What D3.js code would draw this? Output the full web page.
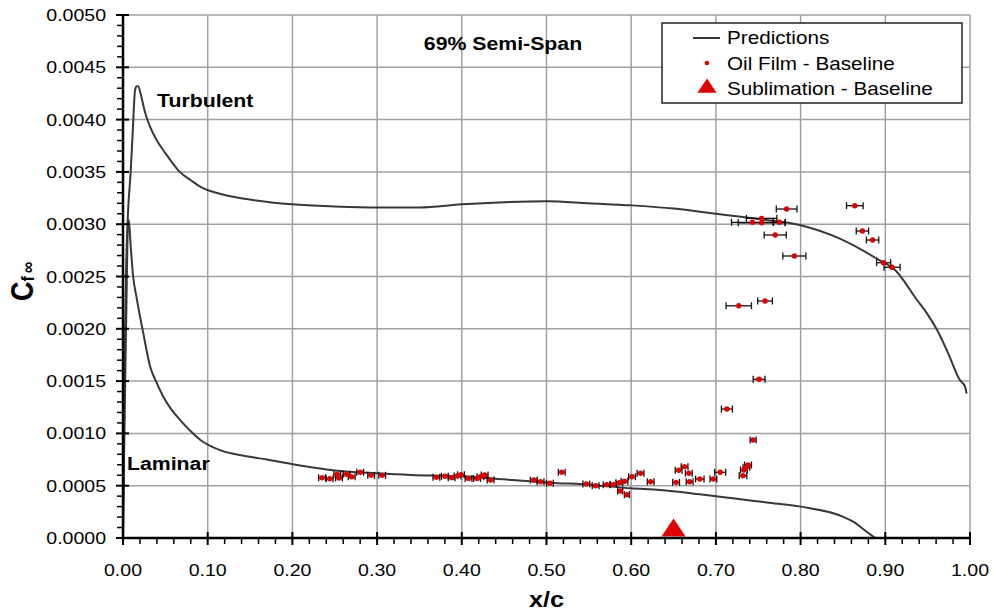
<!DOCTYPE html>
<html>
<head>
<meta charset="utf-8">
<script src="https://cdn.jsdelivr.net/npm/d3@7"></script>
<style>
  html, body { margin: 0; padding: 0; background: #fff; }
  svg { display: block; font-family: "Liberation Sans", Arial, sans-serif; }
</style>
</head>
<body>
<svg id="chart" width="994" height="613"></svg>
<script>
// Axis ticks
const xTicks = [0.0, 0.1, 0.2, 0.3, 0.4, 0.5, 0.6, 0.7, 0.8, 0.9, 1.0];
const yTicks = [0.0000, 0.0005, 0.0010, 0.0015, 0.0020, 0.0025, 0.0030, 0.0035, 0.0040, 0.0045, 0.0050];

// Predicted skin friction, turbulent boundary layer [x/c, Cf]
const turbulent = [
  [0.000, 0.0000], [0.001, 0.0008], [0.002, 0.0017], [0.0035, 0.0025], [0.0063, 0.00317],
  [0.009, 0.00349], [0.0114, 0.00387], [0.0142, 0.00428], [0.016, 0.00432], [0.018, 0.00432],
  [0.021, 0.00424], [0.026, 0.00407], [0.032, 0.00393], [0.040, 0.00380], [0.050, 0.00368],
  [0.067, 0.00350], [0.080, 0.00342], [0.091, 0.00336], [0.110, 0.00330], [0.146, 0.00324],
  [0.200, 0.00319], [0.250, 0.00317], [0.300, 0.00316], [0.350, 0.00316], [0.400, 0.00319],
  [0.450, 0.00321], [0.500, 0.00322], [0.550, 0.00320], [0.600, 0.00318], [0.650, 0.00315],
  [0.700, 0.00310], [0.750, 0.00305], [0.800, 0.00299], [0.847, 0.00286], [0.890, 0.00267],
  [0.913, 0.00255], [0.937, 0.00228], [0.949, 0.00215], [0.961, 0.00199], [0.974, 0.00177],
  [0.988, 0.00151], [0.994, 0.00145], [0.996, 0.00138]
];

// Predicted skin friction, laminar boundary layer [x/c, Cf]
const laminar = [
  [0.000, 0.0000], [0.002, 0.0012], [0.004, 0.0022], [0.0055, 0.0029], [0.007, 0.00304],
  [0.009, 0.00280], [0.012, 0.00250], [0.016, 0.00230], [0.020, 0.00212], [0.0232, 0.00199],
  [0.032, 0.00164], [0.040, 0.00148], [0.0476, 0.00135], [0.057, 0.00123], [0.0673, 0.00113],
  [0.080, 0.00102], [0.091, 0.00094], [0.1145, 0.00084], [0.144, 0.000784], [0.170, 0.00075],
  [0.199, 0.000707], [0.250, 0.000645], [0.300, 0.000618], [0.340, 0.000602], [0.400, 0.000590],
  [0.459, 0.000554], [0.504, 0.000529], [0.555, 0.000507], [0.599, 0.000475], [0.634, 0.000459],
  [0.681, 0.000418], [0.720, 0.000380], [0.760, 0.000340], [0.800, 0.000300], [0.850, 0.000204],
  [0.862, 0.000156], [0.878, 0.000060], [0.888, 0.0000]
];

// Oil film measurements: x/c, Cf and x/c uncertainty
const oilX = [
  0.235, 0.244, 0.253, 0.255, 0.264, 0.270, 0.280, 0.293, 0.306,
  0.370, 0.380, 0.388, 0.395, 0.399, 0.408, 0.418, 0.422, 0.427, 0.434,
  0.485, 0.493, 0.504, 0.518, 0.547, 0.558, 0.571, 0.579, 0.586, 0.592,
  0.587, 0.595, 0.601, 0.611, 0.623, 0.653, 0.656, 0.663, 0.668, 0.669,
  0.681, 0.697, 0.705, 0.732, 0.733, 0.736, 0.738, 0.744, 0.713, 0.751,
  0.727, 0.758, 0.7835, 0.864, 0.754, 0.743, 0.754, 0.775, 0.770, 0.7926,
  0.873, 0.885, 0.898, 0.908
];
const oilCf = [
  0.000576, 0.000567, 0.000609, 0.000574, 0.000609, 0.000586, 0.000628, 0.000599, 0.000599,
  0.000580, 0.000590, 0.000577, 0.000593, 0.000605, 0.000570, 0.000570, 0.000586, 0.000602, 0.000554,
  0.000554, 0.000538, 0.000523, 0.000628, 0.000516, 0.000500, 0.000510, 0.000513, 0.000529, 0.000542,
  0.000449, 0.000414, 0.000586, 0.000619, 0.000538, 0.000532, 0.000647, 0.000682, 0.000619, 0.000538,
  0.000564, 0.000564, 0.000628, 0.000596, 0.000650, 0.000676, 0.000698, 0.000937, 0.001233, 0.001517,
  0.002220, 0.002266, 0.003145, 0.003177, 0.003056, 0.003018, 0.003014, 0.003018, 0.002897, 0.002696,
  0.002935, 0.002849, 0.002632, 0.002588
];
const oilErr = [
  0.004, 0.004, 0.004, 0.004, 0.004, 0.004, 0.004, 0.004, 0.004,
  0.004, 0.004, 0.004, 0.004, 0.004, 0.004, 0.004, 0.004, 0.004, 0.004,
  0.004, 0.004, 0.004, 0.004, 0.004, 0.004, 0.004, 0.004, 0.004, 0.004,
  0.003, 0.003, 0.004, 0.004, 0.004, 0.004, 0.004, 0.004, 0.004, 0.004,
  0.005, 0.004, 0.0065, 0.0045, 0.004, 0.004, 0.004, 0.0035, 0.0065, 0.007,
  0.015, 0.0087, 0.0122, 0.0098, 0.018, 0.0246, 0.0276, 0.007, 0.013, 0.0136,
  0.0073, 0.0073, 0.0083, 0.0095
];

// Sublimation transition location
const sublimX = [0.65];
const sublimCf = [0.0];

const seriesNames = ["Predictions", "Oil Film - Baseline", "Sublimation - Baseline"];

const svg = d3.select("#chart");
const x = d3.scaleLinear().domain([0, 1]).range([123, 970]);
const y = d3.scaleLinear().domain([0, 0.005]).range([538, 15]);

const SX = 1.15;           // horizontal text stretch
const lineColor = "#383838";
const red = "#e00000";

function label(g, txt, px, py, opts) {
  const o = Object.assign({ size: 17, weight: "normal", anchor: "start" }, opts || {});
  return g.append("text")
    .attr("transform", `translate(${px},${py}) scale(${SX},1)`)
    .attr("text-anchor", o.anchor)
    .attr("font-size", o.size)
    .attr("font-weight", o.weight)
    .attr("fill", "#000")
    .text(txt);
}

// Grid
const grid = svg.append("g");
grid.selectAll(".gx").data(xTicks.slice(1)).join("line")
  .attr("x1", d => x(d)).attr("x2", d => x(d))
  .attr("y1", y(0.005)).attr("y2", y(0))
  .attr("stroke", "#a0a0a0").attr("stroke-width", 1.5);
grid.selectAll(".gy").data(yTicks.slice(1)).join("line")
  .attr("x1", x(0)).attr("x2", x(1))
  .attr("y1", d => y(d)).attr("y2", d => y(d))
  .attr("stroke", "#a0a0a0").attr("stroke-width", 1.5);

// Prediction curves
const line = d3.line().curve(d3.curveMonotoneX).x(d => x(d[0])).y(d => y(d[1]));
svg.append("path").datum(turbulent).attr("d", line)
  .attr("fill", "none").attr("stroke", lineColor).attr("stroke-width", 2);
svg.append("path").datum(laminar).attr("d", line)
  .attr("fill", "none").attr("stroke", lineColor).attr("stroke-width", 2);

// Oil film points with error bars
const oil = oilX.map((v, i) => ({ x: v, cf: oilCf[i], e: oilErr[i] }));
const eb = svg.append("g").attr("stroke", "#111").attr("stroke-width", 1.3);
oil.forEach(d => {
  const cy = y(d.cf), xl = x(d.x - d.e), xr = x(d.x + d.e);
  eb.append("line").attr("x1", xl).attr("x2", xr).attr("y1", cy).attr("y2", cy);
  eb.append("line").attr("x1", xl).attr("x2", xl).attr("y1", cy - 3.5).attr("y2", cy + 3.5);
  eb.append("line").attr("x1", xr).attr("x2", xr).attr("y1", cy - 3.5).attr("y2", cy + 3.5);
});
svg.append("g").selectAll("circle").data(oil).join("circle")
  .attr("cx", d => x(d.x)).attr("cy", d => y(d.cf)).attr("r", 2.7)
  .attr("fill", red);

// Sublimation marker
const tri = d3.symbol().type(d3.symbolTriangle).size(190);
svg.append("g").selectAll("path").data(sublimX.map((v, i) => [v, sublimCf[i]])).join("path")
  .attr("d", tri)
  .attr("transform", d => `translate(${x(d[0])},${y(d[1]) - 7.5}) scale(1.15,1)`)
  .attr("fill", red);

// Axes
const ax = svg.append("g").attr("stroke", "#000");
ax.append("line").attr("x1", x(0)).attr("x2", x(0)).attr("y1", y(0.005)).attr("y2", y(0) + 1)
  .attr("stroke-width", 2.5);
ax.append("line").attr("x1", x(0) - 1).attr("x2", x(1)).attr("y1", y(0)).attr("y2", y(0))
  .attr("stroke-width", 2.5);

const xMinor = d3.range(0, 1.0001, 0.02).filter(v => Math.abs(v * 10 - Math.round(v * 10)) > 1e-6);
const yMinor = d3.range(0, 0.00501, 0.0001).filter(v => Math.abs(v / 0.0005 - Math.round(v / 0.0005)) > 1e-6);

ax.selectAll(".xM").data(xTicks).join("line")
  .attr("x1", d => x(d)).attr("x2", d => x(d))
  .attr("y1", y(0) - 6).attr("y2", y(0) + 7).attr("stroke-width", 2);
ax.selectAll(".xm").data(xMinor).join("line")
  .attr("x1", d => x(d)).attr("x2", d => x(d))
  .attr("y1", y(0)).attr("y2", y(0) + 6).attr("stroke-width", 1.5);
ax.selectAll(".yM").data(yTicks).join("line")
  .attr("x1", x(0) - 7).attr("x2", x(0) + 6)
  .attr("y1", d => y(d)).attr("y2", d => y(d)).attr("stroke-width", 2);
ax.selectAll(".ym").data(yMinor).join("line")
  .attr("x1", x(0) - 6).attr("x2", x(0))
  .attr("y1", d => y(d)).attr("y2", d => y(d)).attr("stroke-width", 1.5);

// Tick labels
const labels = svg.append("g");
xTicks.forEach(v => label(labels, d3.format(".2f")(v), x(v), 576, { anchor: "middle" }));
yTicks.forEach(v => label(labels, d3.format(".4f")(v), 106, y(v) + 6, { anchor: "end" }));

// Axis titles
label(svg, "x/c", x(0.5), 607, { anchor: "middle", size: 22, weight: "bold" });
const yt = svg.append("text")
  .attr("transform", `translate(33,301) scale(${SX},1) rotate(-90)`)
  .attr("font-weight", "bold").attr("fill", "#000");
yt.append("tspan").attr("font-size", 27).text("C");
yt.append("tspan").attr("font-size", 16).attr("dy", 1).text("f");
yt.append("tspan").attr("font-size", 16).attr("dx", 3).text("∞");

// Annotations
label(svg, "69% Semi-Span", 503, 50, { anchor: "middle", size: 18.5, weight: "bold" });
label(svg, "Turbulent", 157, 107, { size: 18.5, weight: "bold" });
label(svg, "Laminar", 127, 470, { size: 18.5, weight: "bold" });

// Legend
const lg = svg.append("g");
lg.append("rect").attr("x", 662).attr("y", 23).attr("width", 300).attr("height", 80)
  .attr("fill", "#fff").attr("stroke", "#222").attr("stroke-width", 1.5);
lg.append("line").attr("x1", 693).attr("x2", 720).attr("y1", 38).attr("y2", 38)
  .attr("stroke", lineColor).attr("stroke-width", 2);
lg.append("circle").attr("cx", 707).attr("cy", 63).attr("r", 2.3).attr("fill", red);
lg.append("path").attr("d", d3.symbol().type(d3.symbolTriangle).size(120))
  .attr("transform", "translate(707,88) scale(1.15,1)").attr("fill", red);
seriesNames.forEach((n, i) => label(lg, n, 727, 44 + i * 25.5, { size: 18 }));
</script>
</body>
</html>
